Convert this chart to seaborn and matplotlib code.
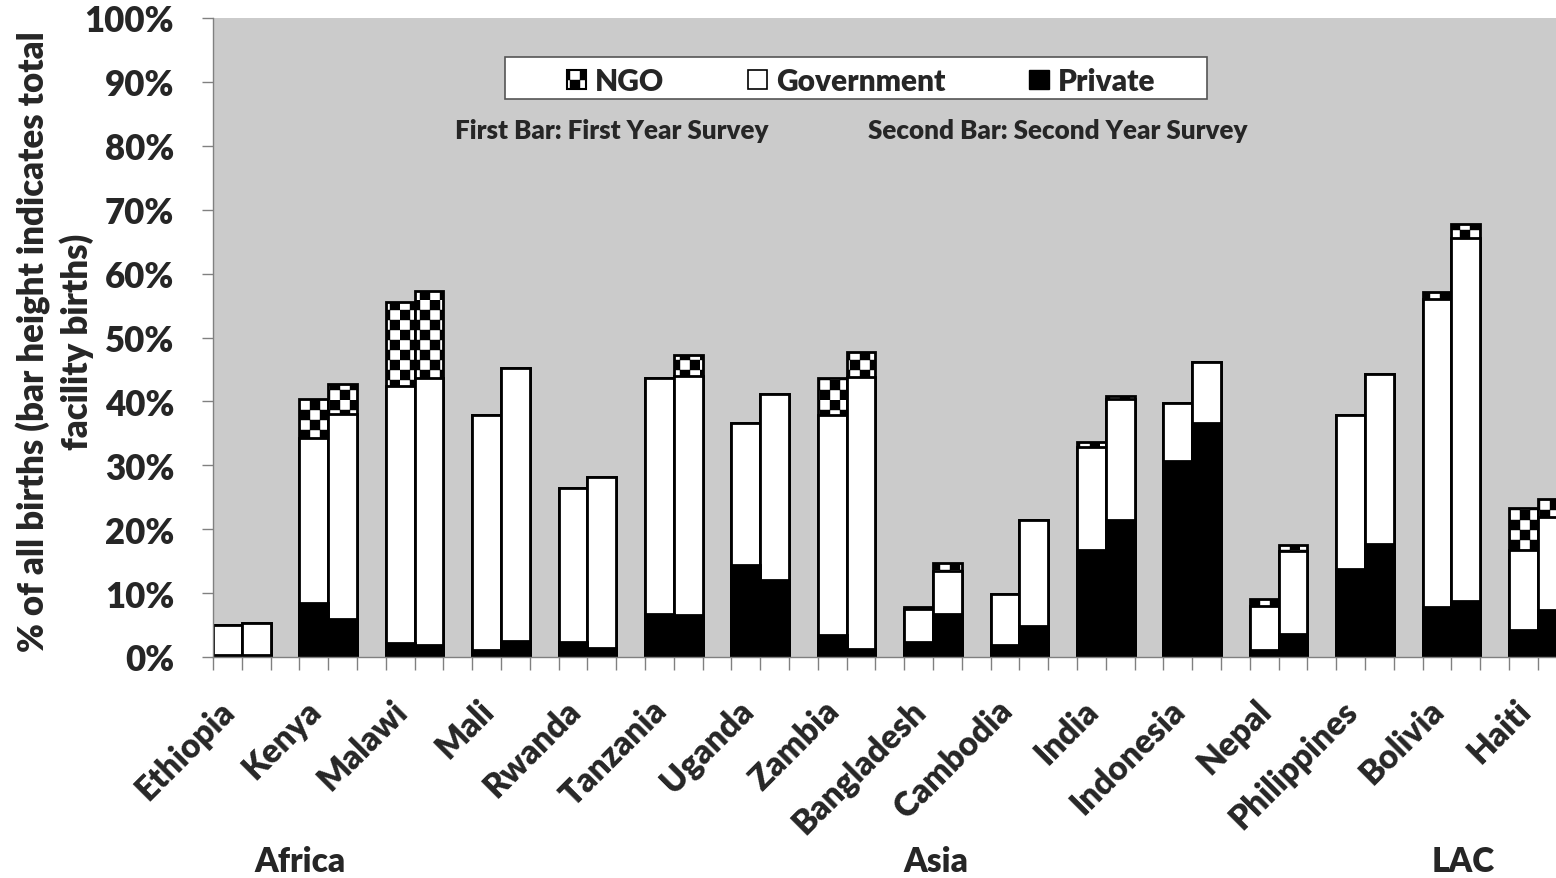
import numpy as np
import pandas as pd
import matplotlib
matplotlib.use("Agg")
import matplotlib.pyplot as plt
import matplotlib.hatch as mhatch
import matplotlib.transforms as mtrans
from matplotlib.path import Path
from matplotlib.patches import Patch, Rectangle
import seaborn as sns

# ---------------- data ----------------
countries = ["Ethiopia", "Kenya", "Malawi", "Mali", "Rwanda", "Tanzania", "Uganda",
             "Zambia", "Bangladesh", "Cambodia", "India", "Indonesia", "Nepal",
             "Philippines", "Bolivia", "Haiti"]
regions = ["Africa", "Asia", "LAC"]

private_1 = [0.3, 8.4, 2.2, 1.1, 2.3, 6.7, 14.4, 3.4, 2.3, 1.8, 16.8, 30.7, 1.1, 13.8, 7.9, 4.2]
gov_1     = [4.7, 25.8, 40.2, 36.8, 24.2, 37.0, 22.2, 34.5, 5.2, 8.1, 16.0, 9.1, 6.9, 24.1, 48.2, 12.6]
ngo_1     = [0.0, 6.1, 13.2, 0.0, 0.0, 0.0, 0.0, 5.8, 0.3, 0.0, 0.8, 0.0, 1.1, 0.0, 1.0, 6.5]

private_2 = [0.3, 6.0, 1.8, 2.5, 1.4, 6.6, 12.0, 1.2, 6.7, 4.8, 21.4, 36.6, 3.6, 17.7, 8.8, 7.4]
gov_2     = [5.0, 32.1, 41.8, 42.7, 26.8, 37.4, 29.2, 42.6, 6.8, 16.6, 18.9, 9.6, 13.0, 26.6, 56.8, 14.5]
ngo_2     = [0.0, 4.6, 13.7, 0.0, 0.0, 3.2, 0.0, 4.0, 1.2, 0.0, 0.5, 0.0, 1.0, 0.0, 2.1, 2.9]

yticks = [0, 10, 20, 30, 40, 50, 60, 70, 80, 90, 100]

# ---------------- checkerboard hatch ----------------
class CheckerHatch(mhatch.HatchPatternBase):
    def __init__(self, hatch, density):
        self.n = 10 if "O" in hatch else 0
        self.cells = [(i, j) for i in range(self.n) for j in range(self.n) if (i + j) % 2 == 0]
        self.num_vertices = len(self.cells) * 5

    def set_vertices_and_codes(self, vertices, codes):
        s = 1.0 / self.n
        k = 0
        for i, j in self.cells:
            x0, y0 = i * s, j * s
            vertices[k:k + 5] = [(x0, y0), (x0 + s, y0), (x0 + s, y0 + s), (x0, y0 + s), (x0, y0)]
            codes[k:k + 5] = [Path.MOVETO, Path.LINETO, Path.LINETO, Path.LINETO, Path.CLOSEPOLY]
            k += 5

mhatch._hatch_types[mhatch._hatch_types.index(mhatch.LargeCircles)] = CheckerHatch

# ---------------- build slot table ----------------
n_slots = 3 * len(countries)
slot_names = [f"s{k:02d}" for k in range(n_slots)]
rows = []
for i, c in enumerate(countries):
    for b, (p, g, n) in enumerate([(private_1[i], gov_1[i], ngo_1[i]),
                                   (private_2[i], gov_2[i], ngo_2[i])]):
        rows.append({"slot": slot_names[3 * i + b], "country": c,
                     "private": p, "govtop": p + g, "total": p + g + n})
df = pd.DataFrame(rows)

# ---------------- style ----------------
sns.set_theme(style="white")
plt.rcParams["font.family"] = ["Lato", "DejaVu Sans"]
plt.rcParams["hatch.linewidth"] = 0.3
plt.rcParams["hatch.color"] = "black"
WEIGHT = "heavy"

fig = plt.figure(figsize=(15.56, 8.79), dpi=100)
W, H = 1556, 879
slot_px = 28.8
ax = fig.add_axes([213 / W, 1 - 658 / H, n_slots * slot_px / W, (658 - 19) / H])
ax.set_facecolor("#cbcbcb")

common = dict(data=df, x="slot", order=slot_names, width=1.0, errorbar=None,
              edgecolor="black", linewidth=2.0, ax=ax)
sns.barplot(y="total", color="white", hatch="O", **common)
sns.barplot(y="govtop", color="white", **common)
sns.barplot(y="private", color="black", **common)

ax.set_xlim(-0.5, n_slots - 0.5)
ax.set_ylim(0, 100)
ax.set_yticks(yticks)
ax.set_yticklabels([f"{v}%" for v in yticks], fontsize=25, fontweight=WEIGHT)
ax.set_xticks(np.arange(-0.5, n_slots, 1.0))
ax.set_xticklabels([])
ax.set_xlabel("")
ax.set_ylabel("")
ax.tick_params(axis="y", direction="out", length=8, width=1, color="#808080", pad=20, left=True)
ax.tick_params(axis="x", direction="out", length=9, width=1, color="#808080", bottom=True)
for s in ["top", "right"]:
    ax.spines[s].set_visible(False)
for s in ["left", "bottom"]:
    ax.spines[s].set_color("#808080")
    ax.spines[s].set_linewidth(1)

# y axis title
fig.text(55 / W, 1 - 342 / H, "% of all births (bar height indicates total\nfacility births)",
         rotation=90, ha="center", va="center", multialignment="center",
         fontsize=25, fontweight=WEIGHT, linespacing=1.3)

# country labels
for i, c in enumerate(countries):
    ax.annotate(c, xy=(3 * i + 0.5, 0), xycoords=("data", "axes fraction"),
                xytext=(-12, -48), textcoords="offset pixels", rotation=45,
                ha="right", va="center", rotation_mode="anchor",
                fontsize=24, fontweight=WEIGHT)

# region labels
region_x = [2.52, 24.6, 42.9]
blend = mtrans.blended_transform_factory(ax.transData, fig.transFigure)
for r, xr in zip(regions, region_x):
    ax.text(xr, 1 - 862 / H, r, transform=blend, ha="center", va="center",
            fontsize=24, fontweight=WEIGHT)

# legend box and legend
fig.patches.append(Rectangle((505 / W, 1 - 100 / H), 702 / W, 42 / H,
                             transform=fig.transFigure, facecolor="white",
                             edgecolor="#555555", linewidth=1.2, zorder=5))
handles = [Patch(facecolor="white", edgecolor="black", hatch="O", linewidth=1.5, label="NGO"),
           Patch(facecolor="white", edgecolor="black", linewidth=1.2, label="Government"),
           Patch(facecolor="black", edgecolor="black", label="Private")]
leg = fig.legend(handles=handles, loc="center", bbox_to_anchor=(861 / W, 1 - 82 / H),
                 ncol=3, fontsize=21.5, frameon=False, handlelength=0.65, handleheight=0.65,
                 handletextpad=0.3, columnspacing=2.8, borderpad=0.1)
leg.set_zorder(6)
for t in leg.get_texts():
    t.set_fontweight(WEIGHT)

fig.text(612 / W, 1 - 131 / H, "First Bar: First Year Survey", ha="center", va="center",
         fontsize=18.7, fontweight=WEIGHT)
fig.text(1058 / W, 1 - 131 / H, "Second Bar: Second Year Survey", ha="center", va="center",
         fontsize=18.7, fontweight=WEIGHT)

fig.savefig("out.png", dpi=100, facecolor="white")
